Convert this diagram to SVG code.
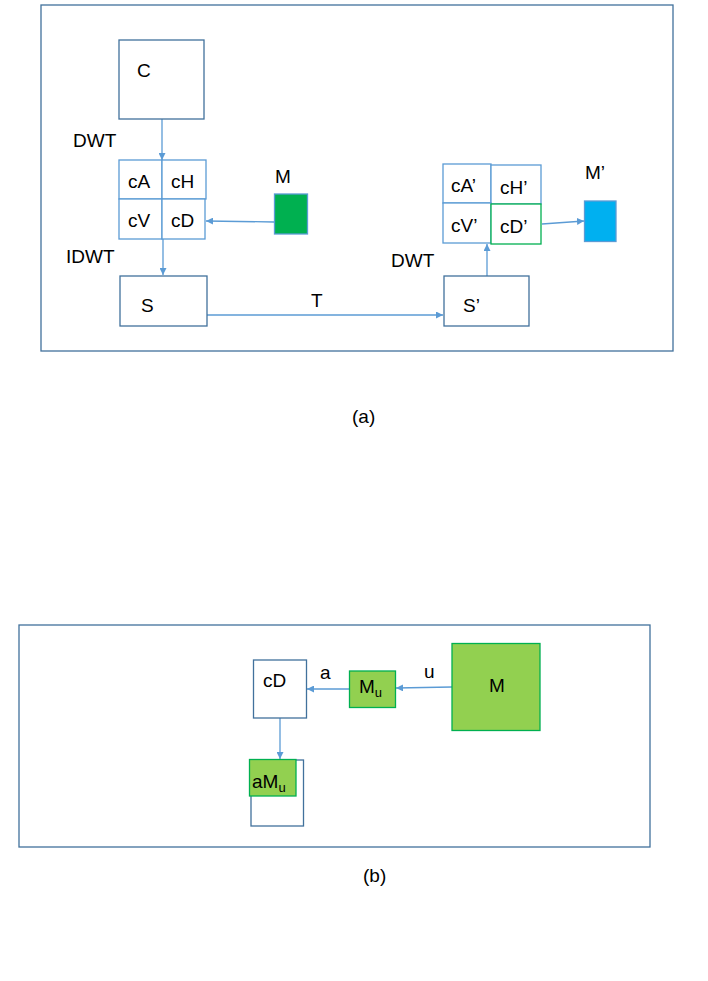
<svg xmlns="http://www.w3.org/2000/svg" width="708" height="981" viewBox="0 0 708 981">
<defs>
<style>
text{font-family:"Liberation Sans",Arial,sans-serif;font-size:19px;fill:#000}
.frame{fill:none;stroke:#41719c;stroke-width:1.3}
.box{fill:#fff;stroke:#41719c;stroke-width:1.3}
.cell{fill:#fff;stroke:#5b9bd5;stroke-width:1.3}
.con{stroke:#5b9bd5;stroke-width:1.3;fill:none;marker-end:url(#ah)}
.lg{fill:#92d050;stroke:#00b050;stroke-width:1.3}
</style>
<marker id="ah" viewBox="0 0 10 10" refX="10" refY="5" markerWidth="7" markerHeight="7" markerUnits="userSpaceOnUse" orient="auto">
<path d="M0,0 L10,5 L0,10 z" fill="#5b9bd5"/>
</marker>
</defs>
<rect width="708" height="981" fill="#fff"/>
<g id="frameA"><rect class="frame" x="41" y="5" width="632" height="346"/></g>
<g id="frameB"><rect class="frame" x="19" y="625" width="631" height="222"/></g>

<g id="connectors">
<line class="con" x1="162" y1="119" x2="162" y2="160"/>
<line class="con" x1="163" y1="239" x2="163" y2="275"/>
<line class="con" x1="274" y1="222" x2="206" y2="221"/>
<line class="con" x1="207" y1="315" x2="443" y2="315"/>
<line class="con" x1="487" y1="276" x2="487" y2="244"/>
<line class="con" x1="542" y1="224" x2="584" y2="221"/>
<line class="con" x1="452" y1="687" x2="396" y2="688"/>
<line class="con" x1="349" y1="689" x2="307" y2="689"/>
<line class="con" x1="280" y1="718" x2="280" y2="759"/>
</g>

<g id="C"><rect class="box" x="119" y="40" width="85" height="79"/><text x="137" y="77">C</text></g>
<text x="73" y="147">DWT</text>
<g id="cA"><rect class="cell" x="119" y="160" width="43" height="39"/><text x="128" y="188">cA</text></g>
<g id="cH"><rect class="cell" x="162" y="160" width="44" height="39"/><text x="171" y="188">cH</text></g>
<g id="cV"><rect class="cell" x="119" y="199" width="43" height="40"/><text x="128" y="227">cV</text></g>
<g id="cD"><rect class="cell" x="162" y="199" width="43" height="40"/><text x="171" y="227">cD</text></g>
<g id="M"><rect x="274.5" y="194" width="33" height="40" fill="#00b050" stroke="#5b9bd5" stroke-width="1.3"/><text x="275" y="183">M</text></g>
<text x="66" y="263">IDWT</text>
<g id="S"><rect class="box" x="120" y="276" width="87" height="50"/><text x="141" y="312">S</text></g>
<text x="311" y="307">T</text>
<g id="S2"><rect class="box" x="444" y="276" width="85" height="50"/><text x="463" y="312">S’</text></g>
<text x="391" y="267">DWT</text>
<g id="cA2"><rect class="cell" x="443" y="164" width="48" height="39"/><text x="451" y="192">cA’</text></g>
<g id="cH2"><rect class="cell" x="491" y="165" width="50" height="39"/><text x="500" y="194">cH’</text></g>
<g id="cV2"><rect class="cell" x="443" y="203" width="48" height="40"/><text x="451" y="232">cV’</text></g>
<g id="cD2"><rect x="491" y="204" width="50" height="40" fill="#fff" stroke="#00b050" stroke-width="1.3"/><text x="500" y="233">cD’</text></g>
<g id="M2"><rect x="584.5" y="201" width="31.5" height="40.5" fill="#00b0f0" stroke="#5b9bd5" stroke-width="1.3"/><text x="585" y="179">M’</text></g>
<text x="352" y="423">(a)</text>

<g id="cDb"><rect class="box" x="253.5" y="660" width="53" height="58"/><text x="263" y="687">cD</text></g>
<text x="320" y="679">a</text>
<g id="Mu"><rect class="lg" x="349.5" y="671" width="46" height="36.5"/><text x="359" y="693">M<tspan font-size="13" dy="4">u</tspan></text></g>
<text x="424" y="678">u</text>
<g id="Mbig"><rect class="lg" x="452" y="643.5" width="88" height="87"/><text x="489" y="692">M</text></g>
<g id="out"><rect class="box" x="251" y="760" width="52.5" height="66"/><rect class="lg" x="249.5" y="759.5" width="46.5" height="36.5"/><text x="252" y="788">aM<tspan font-size="13" dy="4">u</tspan></text></g>
<text x="363" y="882">(b)</text>
</svg>
